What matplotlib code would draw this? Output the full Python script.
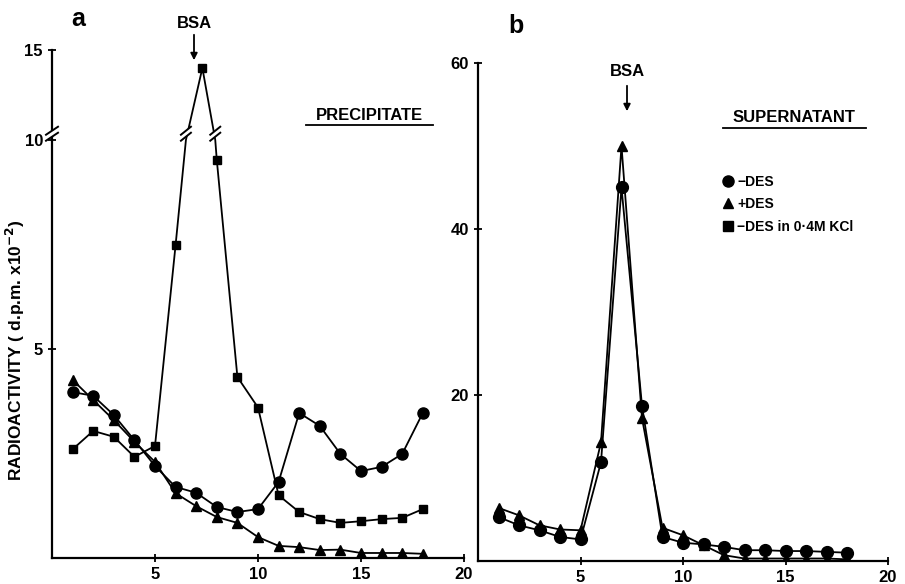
import numpy as np
import matplotlib
matplotlib.use("Agg")
import matplotlib.pyplot as plt
from matplotlib.lines import Line2D
from matplotlib.patches import Polygon

plt.rcParams['font.family'] = ['Liberation Sans', 'DejaVu Sans']
plt.rcParams['font.weight'] = 'bold'
plt.rcParams['mathtext.default'] = 'bf'

# fraction numbers
frac = [1, 2, 3, 4, 5, 6, 7, 8, 9, 10, 11, 12, 13, 14, 15, 16, 17, 18]
frac_kcl = [1, 2, 3, 4, 5, 6, 7.3, 8, 9, 10, 11, 12, 13, 14, 15, 16, 17, 18]

# a: precipitate (d.p.m. x 10^-2)
prec_minus = [3.97, 3.88, 3.42, 2.82, 2.2, 1.7, 1.56, 1.22, 1.1, 1.17, 1.82, 3.47,
              3.16, 2.49, 2.08, 2.18, 2.49, 3.47]
prec_plus = [4.26, 3.78, 3.3, 2.78, 2.3, 1.55, 1.24, 0.98, 0.84, 0.5, 0.29, 0.26,
             0.19, 0.2, 0.12, 0.12, 0.12, 0.1]
prec_kcl = [2.6, 3.04, 2.9, 2.42, 2.68, 7.49, 14.0, 9.52, 4.33, 3.6, 1.5, 1.1,
            0.93, 0.84, 0.88, 0.93, 0.96, 1.17]

# b: supernatant
sup_minus = [5.3, 4.3, 3.7, 2.9, 2.6, 11.9, 45.0, 18.7, 2.9, 2.2, 2.0, 1.7,
             1.3, 1.3, 1.2, 1.2, 1.1, 1.0]
sup_plus = [6.4, 5.5, 4.3, 3.8, 3.7, 14.3, 50.0, 17.2, 4.0, 3.1, 1.9, 0.7,
            0.3, 0.3, 0.3, 0.3, 0.3, 0.2]

W, H = 905, 584
fig = plt.figure(figsize=(W / 100, H / 100), dpi=100)


def rect(x0, y_top, x1, y_bot):
    return [x0 / W, 1 - y_bot / H, (x1 - x0) / W, (y_bot - y_top) / H]


# panel a: broken y axis, lower part 0-10, upper part 10-15
ax_lo = fig.add_axes(rect(52, 140, 464, 558))
ax_hi = fig.add_axes(rect(52, 50, 464, 140))
ax_b = fig.add_axes(rect(478, 63, 888, 561))

lw = 1.3
for ax in (ax_lo, ax_hi):
    ax.plot(frac, prec_minus, '-', color='black', lw=lw, marker='o', ms=8)
    ax.plot(frac, prec_plus, '-', color='black', lw=lw, marker='^', ms=6.5)
    ax.plot(frac_kcl, prec_kcl, '-', color='black', lw=lw, marker='s', ms=6)
    ax.set_xlim(0, 20)
    for s in ('top', 'right'):
        ax.spines[s].set_visible(False)
    ax.spines['left'].set_linewidth(1.6)
    ax.spines['bottom'].set_linewidth(1.6)
    ax.tick_params(direction='inout', length=6, width=1.3, labelsize=12)

ax_lo.set_ylim(0, 10)
ax_lo.set_yticks([5])
ax_lo.set_xticks([5, 10, 15, 20])
ax_hi.set_ylim(10, 15)
ax_hi.set_yticks([10, 15])
ax_hi.spines['bottom'].set_visible(False)
ax_hi.set_xticks([])


def break_mark(ax, x, y, w=6, rise=4, gap=3):
    # two parallel slanted strokes centred on (x, y), sizes in pixels
    cx, cy = ax.transData.transform((x, y))
    p1 = [(cx - w, cy - gap - rise), (cx + w, cy - gap + rise)]
    p2 = [(cx - w, cy + gap - rise), (cx + w, cy + gap + rise)]
    fig.add_artist(Polygon(p1 + p2[::-1], closed=True, facecolor='white',
                           edgecolor='none', transform=None, zorder=10))
    for p in (p1, p2):
        fig.add_artist(Line2D([p[0][0], p[1][0]], [p[0][1], p[1][1]],
                              color='black', lw=1.4, transform=None, zorder=11))


# break marks on the y axis and on the KCl peak line
break_mark(ax_lo, 0, 10.15)
i = frac_kcl.index(7.3)
for j in (i - 1, i + 1):
    x0, y0 = frac_kcl[j], prec_kcl[j]
    x1, y1 = frac_kcl[i], prec_kcl[i]
    t = (10 - y0) / (y1 - y0)
    break_mark(ax_lo, x0 + t * (x1 - x0), 10.15, w=5, rise=4)

# panel b
ax_b.plot(frac, sup_minus, '-', color='black', lw=lw, marker='o', ms=8.5)
ax_b.plot(frac, sup_plus, '-', color='black', lw=lw, marker='^', ms=7)
ax_b.set_xlim(0, 20)
ax_b.set_ylim(0, 60)
ax_b.set_xticks([5, 10, 15, 20])
ax_b.set_yticks([20, 40, 60])
for s in ('top', 'right'):
    ax_b.spines[s].set_visible(False)
ax_b.spines['left'].set_linewidth(1.6)
ax_b.spines['bottom'].set_linewidth(1.6)
ax_b.tick_params(direction='inout', length=6, width=1.3, labelsize=12)

# labels and annotations
fig.text(15 / W, 1 - 350 / H, 'RADIOACTIVITY ( d.p.m. x10$^{-2}$)',
         rotation=90, ha='center', va='center', fontsize=12.5, fontweight='bold')
fig.text(78 / W, 1 - 19 / H, 'a', fontsize=18, fontweight='bold',
         ha='center', va='center')
fig.text(516 / W, 1 - 26 / H, 'b', fontsize=18, fontweight='bold',
         ha='center', va='center')

fig.text(194 / W, 1 - 23 / H, 'BSA', fontsize=12, fontweight='bold',
         ha='center', va='center')
fig.add_artist(plt.Annotation('', xy=(194 / W, 1 - 63 / H), xytext=(194 / W, 1 - 32 / H),
                              xycoords='figure fraction',
                              arrowprops=dict(arrowstyle='-|>', color='black',
                                              lw=1.3, mutation_scale=10)))
fig.text(627 / W, 1 - 71 / H, 'BSA', fontsize=12, fontweight='bold',
         ha='center', va='center')
fig.add_artist(plt.Annotation('', xy=(627 / W, 1 - 114 / H), xytext=(627 / W, 1 - 83 / H),
                              xycoords='figure fraction',
                              arrowprops=dict(arrowstyle='-|>', color='black',
                                              lw=1.3, mutation_scale=10)))

fig.text(369 / W, 1 - 115 / H, 'PRECIPITATE', fontsize=12, fontweight='bold',
         ha='center', va='center')
fig.add_artist(Line2D([306 / W, 433 / W], [1 - 125 / H, 1 - 125 / H], color='black', lw=1.3))
fig.text(794 / W, 1 - 118 / H, 'SUPERNATANT', fontsize=12, fontweight='bold',
         ha='center', va='center')
fig.add_artist(Line2D([723 / W, 866 / W], [1 - 128 / H, 1 - 128 / H], color='black', lw=1.3))

handles = [Line2D([], [], color='black', marker='o', ms=8, linestyle='none'),
           Line2D([], [], color='black', marker='^', ms=7, linestyle='none'),
           Line2D([], [], color='black', marker='s', ms=6.5, linestyle='none')]
labels = ['\u2212DES', '+DES', '\u2212DES in 0\u00b74M KCl']
ax_b.legend(handles, labels, loc='upper left', bbox_to_anchor=(717 / W, 1 - 168 / H),
            bbox_transform=fig.transFigure, frameon=False, handlelength=0.6,
            handletextpad=0.35, labelspacing=0.6, borderpad=0,
            prop={'weight': 'bold', 'size': 10})

fig.savefig('out.png', dpi=100)
